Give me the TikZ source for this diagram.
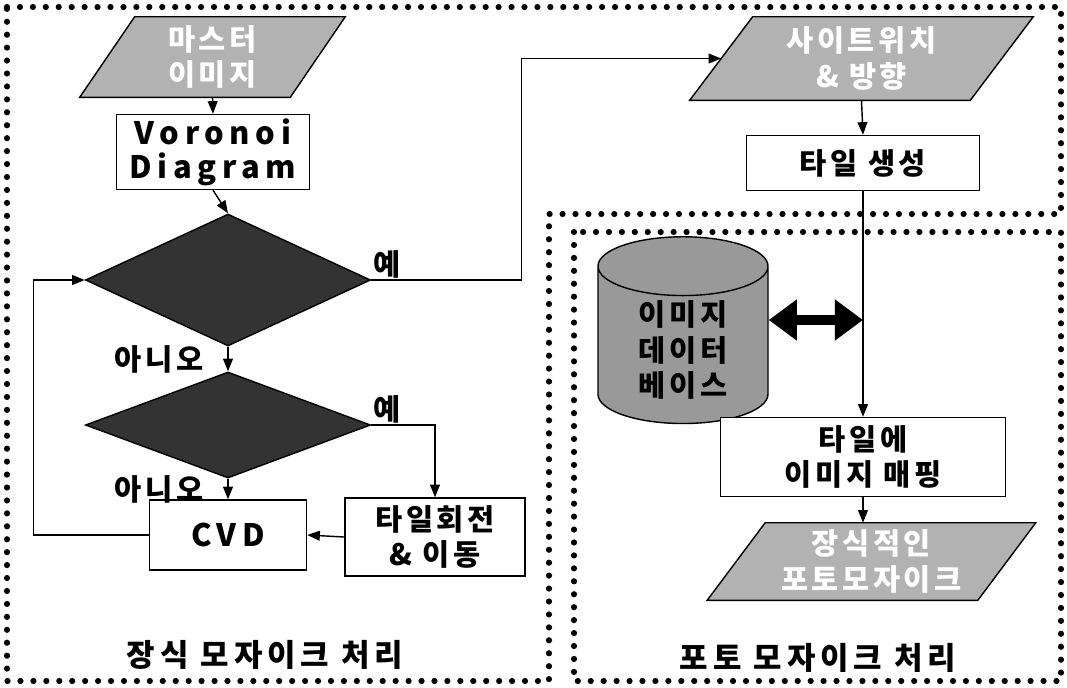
\documentclass[tikz,border=0pt]{standalone}
\usepackage{fontspec}
\setmainfont{Noto Sans CJK KR}
\usetikzlibrary{arrows.meta,shapes.geometric,calc,backgrounds}

\begin{document}
\begin{tikzpicture}[
    x=0.025cm, y=-0.025cm,
    >={Triangle[length=9pt,width=7pt]},
    font=\fontsize{21}{25}\selectfont\bfseries\addfontfeature{LetterSpace=12},
    arr/.style={->, line width=1pt},
    dbl/.style={{Triangle[length=20pt,width=28pt]}-{Triangle[length=20pt,width=28pt]}, line width=7pt},
    zone/.style={line width=4.4pt, line cap=round, dash pattern=on 0pt off 9.2pt},
    box/.style={draw, fill=white, align=center, inner sep=2pt, line width=1pt},
    iobox/.style={rectangle, text=white, align=center, inner sep=0pt},
    ioshape/.style={draw, fill=black!30, line width=1pt},
    dec/.style={diamond, draw, fill=black!80, inner sep=0pt, line width=1pt},
    latin/.style={font=\fontsize{22}{24}\selectfont\bfseries\addfontfeature{LetterSpace=18}},
    title/.style={font=\fontsize{22}{26}\selectfont\bfseries\addfontfeature{LetterSpace=16}},
    note/.style={inner sep=1pt}
]
\useasboundingbox (0,0) rectangle (1067,687);

% ---------- zones ----------
\draw[zone] (7,7) -- (1061,7) -- (1061,214) -- (549,214) -- (549,681) -- (7,681) -- cycle;
\draw[zone] (574,232) rectangle (1061,681);

% ---------- left column ----------
\node[iobox, minimum width=5.25cm, minimum height=2cm] (master) at (212.5,57) {마스터\\이미지};
\node[box, latin, minimum width=4.825cm, minimum height=1.875cm] (voronoi) at (213,152) {Voronoi\\Diagram};
\node[dec, minimum width=7.125cm, minimum height=3.3cm] (dec1) at (228,280) {};
\node[dec, minimum width=7.125cm, minimum height=2.65cm] (dec2) at (228,425) {};
\node[box, latin, minimum width=3.925cm, minimum height=1.75cm] (cvd) at (228,535) {CVD};
\node[box, minimum width=4.5cm, minimum height=1.95cm] (move) at (435,537) {타일회전\\\& 이동};

\draw[arr] (master.south) -- (voronoi.north);
\draw[arr] (voronoi.south) -- (dec1.north);
\draw[arr] (dec1.south) -- node[note, left=16pt] {아니오} (dec2.north);
\draw[arr] (dec2.south) -- node[note, left=16pt] {아니오} (cvd.north);
\draw[arr] (dec2.east) -- node[note, pos=0, above right] {예} (move.north |- dec2.east) -- (move.north);
\draw[arr] (move.west) -- (cvd.east);
\draw[arr] (cvd.west) -- ++(-115,0) |- (dec1.west);

% ---------- right column ----------
\node[iobox, minimum width=7cm, minimum height=2.075cm] (site) at (861.5,58.5) {사이트위치\\\& 방향};
\node[box, minimum width=5.825cm, minimum height=1.375cm] (gen) at (863,163) {타일 생성};
\node[cylinder, shape border rotate=90, draw, fill=black!40, aspect=0.6, align=center,
      line width=1pt, minimum width=4.25cm, minimum height=4.25cm] (db) at (683,350) {이미지\\데이터\\베이스};
\node[box, minimum width=7.125cm, minimum height=1.975cm] (map) at (863,457) {타일에\\이미지 매핑};
\node[iobox, minimum width=6.75cm, minimum height=1.925cm] (result) at (871.5,561.5) {장식적인\\포토모자이크};
\coordinate (tap) at ($(gen.south |- db.east)+(0,-30)$);

\draw[arr] (dec1.east) -- node[note, pos=0, above right] {예} ++(150,0) |- (site.west);
\draw[arr] (site.south) -- (gen.north);
\draw[arr] (gen.south) -- (gen.south |- map.north);
\draw[dbl] (db.east |- tap) -- (tap);
\draw[arr] (map.south) -- (map.south |- result.north);

% parallelograms behind the io texts
\begin{pgfonlayer}{background}
\draw[ioshape] ($(master.south west)+(-27.5,0)$) -- ($(master.south east)+(-27.5,0)$)
    -- ($(master.north east)+(27.5,0)$) -- ($(master.north west)+(27.5,0)$) -- cycle;
\draw[ioshape] ($(site.south west)+(-31.5,0)$) -- ($(site.south east)+(-31.5,0)$)
    -- ($(site.north east)+(31.5,0)$) -- ($(site.north west)+(31.5,0)$) -- cycle;
\draw[ioshape] ($(result.south west)+(-29,0)$) -- ($(result.south east)+(-29,0)$)
    -- ($(result.north east)+(29,0)$) -- ($(result.north west)+(29,0)$) -- cycle;
\end{pgfonlayer}

% ---------- zone titles ----------
\node[title] (decoTitle) at (265,655) {장식 모자이크 처리};
\node[title] (photoTitle) at (818,658) {포토 모자이크 처리};

\end{tikzpicture}
\end{document}
